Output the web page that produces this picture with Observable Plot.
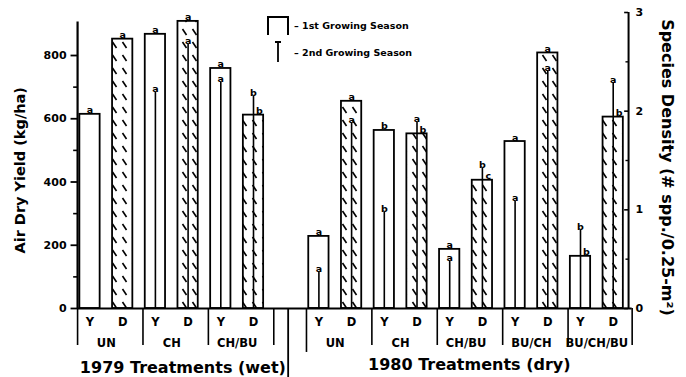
<!DOCTYPE html>
<html><head><meta charset="utf-8">
<script src="https://cdn.jsdelivr.net/npm/d3@7"></script>
<script src="https://cdn.jsdelivr.net/npm/@observablehq/plot@0.6"></script>
<style>
body{margin:0;background:#fff;}
#wrap{position:relative;width:686px;height:377px;overflow:hidden;}
#legend{position:absolute;left:0;top:0;}
</style></head>
<body><div id="wrap"></div>
<script>
// ---- data ----
const treatments = ["UN","CH","CH/BU","UN","CH","CH/BU","BU/CH","BU/CH/BU"];
const years = ["1979","1979","1979","1980","1980","1980","1980","1980"];
const yearTitles = ["1979 Treatments (wet)","1980 Treatments (dry)"];
// Air dry yield (kg/ha): bar = 1st growing season, stem = 2nd growing season
const yield1 = [614, 867, 759, 228, 563, 187, 528, 165];
const yield2 = [null, 684, 715, 117, 304, 150, 339, 247];
const yield1Letters = ["a","a","a","a","b","a","a","b"];
const yield2Letters = [null,"a","a","a","b","a","a","b"];
// Species density (# spp./0.25 m^2)
const density1 = [2.73, 2.91, 1.96, 2.10, 1.77, 1.30, 2.59, 1.94];
const density2 = [null, 2.68, 2.15, 1.88, 1.89, 1.42, 2.41, 2.29];
const density1Letters = ["a","a","b","a","b","c","a","b"];
const density2Letters = [null,"a","b","a","a","b","a","a"];
const yieldTicks = [0,200,400,600,800];
const yieldMinor = [100,300,500,700];
const densityTicks = [0,1,2,3];
const densityMinor = [0.5,1.5,2.5];

// ---- layout helpers ----
const DENS = 312;            // kg/ha units per density unit (right axis)
const HW = 0.31;             // bar half-width in slot units
const LEFT = -0.38, RIGHT_AX = 16.47, RIGHT_BOX = 16.58, SEP = 6.06;
const FONT = "DejaVu Sans";

const rows = treatments.map((t,i)=>{
  const ys = years[i]==="1979" ? 2*i : 2*i+1;
  return {t, year: years[i], ys, ds: ys+1, i};
});
const yBars = rows.map(r=>({x:r.ys, v:yield1[r.i], letter:yield1Letters[r.i], stem:yield2[r.i]}));
const dBars = rows.map(r=>({x:r.ds, v:density1[r.i]*DENS, letter:density1Letters[r.i], stem:density2[r.i]==null?null:density2[r.i]*DENS}));
const stems = [
  ...rows.filter(r=>yield2[r.i]!=null).map(r=>({x:r.ys, v:yield2[r.i], letter:yield2Letters[r.i]})),
  ...rows.filter(r=>density2[r.i]!=null).map(r=>({x:r.ds, v:density2[r.i]*DENS, letter:density2Letters[r.i]}))
];
const barLetters = [...yBars, ...dBars];
const shifted = d => d.stem != null && d.stem > d.v;
const subLabels = rows.flatMap(r=>[{x:r.ys, s:"Y"},{x:r.ds, s:"D"}]);
const dividers = rows.map(r=>r.ys + LEFT);
const firstOf1980 = rows.find(r=>r.year==="1980").ys + LEFT;
const endDividers = [5 + 1 + LEFT, RIGHT_BOX];
const titleX = [(LEFT+SEP)/2, (firstOf1980+RIGHT_BOX)/2];

const chart = Plot.plot({
  width: 686, height: 377, margin: 0,
  x: {type:"linear", domain:[0,16], range:[89.5, 612.7], axis:null},
  y: {type:"linear", domain:[0,936], range:[308, 12], axis:null},
  style: {fontFamily: FONT, fontWeight: "bold", fontSize: "10px", background: "white", color: "black"},
  marks: [
    // bars
    Plot.rect(yBars, {x1:d=>d.x-HW, x2:d=>d.x+HW, y1:0, y2:"v", fill:"white", stroke:"black", strokeWidth:1.8}),
    Plot.rect(dBars, {x1:d=>d.x-HW, x2:d=>d.x+HW, y1:0, y2:"v", fill:"url(#hatch)", stroke:"black", strokeWidth:1.8}),
    // stems (2nd growing season)
    Plot.ruleX(stems, {x:"x", y1:0, y2:"v", stroke:"black", strokeWidth:1.6}),
    Plot.text(stems, {x:"x", y:"v", text:"letter", lineAnchor:"bottom", dy:0, fontSize:9.5, fill:"black"}),
    Plot.text(barLetters.filter(d=>!shifted(d)), {x:"x", y:"v", text:"letter", lineAnchor:"bottom", dy:-1, fontSize:9.5, fill:"black"}),
    Plot.text(barLetters.filter(shifted), {x:"x", y:"v", text:"letter", lineAnchor:"bottom", dy:-1, dx:6, fontSize:9.5, fill:"black"}),
    // baseline & box
    Plot.ruleY([0], {x1:LEFT, x2:RIGHT_BOX, strokeWidth:2.2}),
    Plot.ruleX(dividers.filter(d=>d!==firstOf1980), {x:d=>d, y1:0, y2:-117, strokeWidth:1.6}),
    Plot.ruleX([firstOf1980], {x:d=>d, y1:0, y2:-139, strokeWidth:1.6}),
    Plot.ruleX(endDividers, {x:d=>d, y1:0, y2:-117, strokeWidth:1.6}),
    Plot.ruleX([SEP], {x:d=>d, y1:0, y2:-240, strokeWidth:1.8}),
    // left axis
    Plot.ruleX([LEFT], {x:d=>d, y1:0, y2:906, strokeWidth:2.2}),
    Plot.ruleY(yieldTicks, {y:d=>d, x1:LEFT-0.2, x2:LEFT, strokeWidth:1.8}),
    Plot.ruleY(yieldMinor, {y:d=>d, x1:LEFT-0.12, x2:LEFT, strokeWidth:1.6}),
    Plot.text(yieldTicks, {x:LEFT, y:d=>d, text:d=>String(d), textAnchor:"end", dx:-11, fontSize:11}),
    // right axis
    Plot.ruleX([RIGHT_AX], {x:d=>d, y1:0, y2:densityTicks[densityTicks.length-1]*DENS, strokeWidth:2}),
    Plot.ruleY(densityTicks, {y:d=>d*DENS, x1:RIGHT_AX-0.12, x2:RIGHT_AX, strokeWidth:1.6}),
    Plot.ruleY(densityMinor, {y:d=>d*DENS, x1:RIGHT_AX-0.08, x2:RIGHT_AX, strokeWidth:1.4}),
    Plot.text(densityTicks, {x:RIGHT_AX, y:d=>d*DENS, text:d=>String(d), textAnchor:"start", dx:7, fontSize:11}),
    // axis titles
    Plot.text(["Air Dry Yield (kg/ha)"], {x:-2.13, y:437, text:d=>d, rotate:-90, fontSize:14.5}),
    Plot.text(["Species Density (# spp./0.25-m\u00B2)"], {x:17.66, y:446, text:d=>d, rotate:90, fontSize:16}),
    // category labels
    Plot.text(subLabels, {x:"x", y:0, text:"s", dy:14, fontSize:11.5}),
    Plot.text(rows, {x:d=>d.ys+0.5, y:0, text:"t", dy:35, fontSize:11.5}),
    Plot.text([yearTitles[0]], {x:titleX[0], y:0, text:d=>d, dy:59, fontSize:16}),
    Plot.text([yearTitles[1]], {x:titleX[1], y:0, text:d=>d, dy:56, fontSize:16})
  ]
});

document.getElementById("wrap").appendChild(chart);

// hatch pattern
const defs = d3.select(chart).insert("defs", ":first-child");
const pat = defs.append("pattern").attr("id","hatch").attr("patternUnits","userSpaceOnUse")
  .attr("width",10).attr("height",13);
pat.append("rect").attr("width",10).attr("height",13).attr("fill","white");
pat.append("line").attr("x1",2.5).attr("y1",3).attr("x2",6.5).attr("y2",9)
  .attr("stroke","black").attr("stroke-width",1.6);

// legend overlay
const lg = d3.select("#wrap").append("svg").attr("id","legend").attr("width",686).attr("height",80)
  .style("font-family",FONT).style("font-weight","bold").style("font-size","9.5px");
lg.append("path").attr("d","M268,35V17H288V35").attr("fill","none").attr("stroke","black").attr("stroke-width",2);
lg.append("path").attr("d","M275,42H281M278,42V62").attr("fill","none").attr("stroke","black").attr("stroke-width",1.8);
lg.append("text").attr("x",294).attr("y",28.5).text("\u2013 1st Growing Season");
lg.append("text").attr("x",294).attr("y",55.5).text("\u2013 2nd Growing Season");
</script></body></html>
